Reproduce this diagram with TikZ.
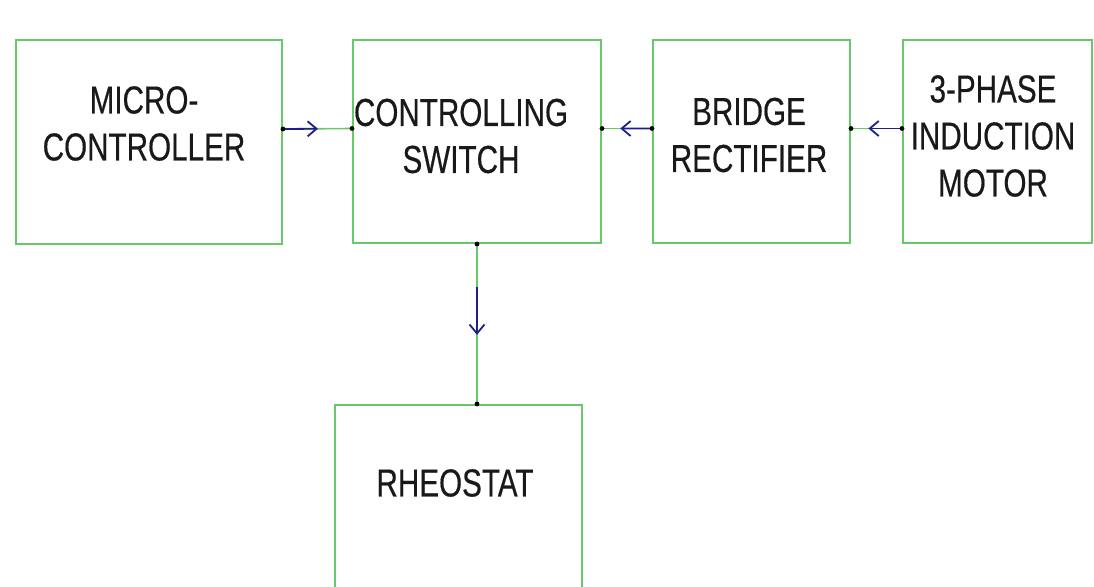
\documentclass[tikz,border=0pt]{standalone}
\usepackage{fontspec}
\setmainfont[FakeStretch=0.76,FakeBold=0.4]{Liberation Sans}
\usetikzlibrary{arrows.meta,calc}
\definecolor{boxgreen}{RGB}{105,200,105}
\definecolor{arrblue}{RGB}{30,30,140}
\definecolor{txt}{RGB}{25,25,25}
\begin{document}
\begin{tikzpicture}[x=1pt,y=-1pt,
  blk/.style={draw=boxgreen,line width=2pt,inner sep=0pt,rectangle},
  lbl/.style={inner sep=0pt,align=center,text=txt,font=\fontsize{39}{47}\selectfont},
  gline/.style={draw=boxgreen,line width=1.6pt},
  barrow/.style={draw=arrblue,line width=1.8pt,-{Straight Barb[length=9pt,width=15pt,line width=1.8pt]}},
  jdot/.style={fill=black,radius=2.4pt}]
\useasboundingbox (0,0) rectangle (1094,586);
\clip (0,0) rectangle (1094,586);
\fill[white] (0,0) rectangle (1094,586);
% boxes
\node[blk,minimum width=266pt,minimum height=204pt] (mc) at (149,142) {};
\node[blk,minimum width=248pt,minimum height=203pt] (cs) at (477,141.5) {};
\node[blk,minimum width=197pt,minimum height=203pt] (br) at (751.5,141.5) {};
\node[blk,minimum width=189pt,minimum height=203pt] (im) at (997.5,141.5) {};
\node[blk,minimum width=247pt,minimum height=185pt] (rh) at (458.5,497.5) {};
% labels
\node[lbl] (tmc) at (144,123.5) {MICRO-\\CONTROLLER};
\node[lbl] (tcs) at (461,136) {CONTROLLING\\SWITCH};
\node[lbl] (tbr) at (749,135) {BRIDGE\\RECTIFIER};
\node[lbl] (tim) at (993,136) {3-PHASE\\INDUCTION\\MOTOR};
\node[lbl] (trh) at (455,483) {RHEOSTAT};
% connection points
\coordinate (a1) at ([yshift=13pt]mc.east);
\coordinate (a2) at ([yshift=13pt]cs.west);
\coordinate (b1) at ([yshift=13pt]cs.east);
\coordinate (b2) at ([yshift=13pt]br.west);
\coordinate (c1) at ([yshift=13pt]br.east);
\coordinate (c2) at ([yshift=13pt]im.west);
\coordinate (d1) at (cs.south);
\coordinate (d2) at (rh.north -| cs.south);
% connectors
\draw[gline] (a1) -- (a2);
\draw[barrow] (a1) -- ($(a1)!0.507!(a2)$);
\draw[gline] (b1) -- (b2);
\draw[barrow] (b2) -- ($(b1)!0.365!(b2)$);
\draw[gline] (c1) -- (c2);
\draw[barrow] (c2) -- ($(c1)!0.34!(c2)$);
\draw[gline] (d1) -- (d2);
\draw[barrow] ($(d1)!0.27!(d2)$) -- ($(d1)!0.568!(d2)$);
% junction dots
\foreach \p in {a1,a2,b1,b2,c1,c2,d1,d2} \fill[jdot] (\p) circle;
\end{tikzpicture}
\end{document}
